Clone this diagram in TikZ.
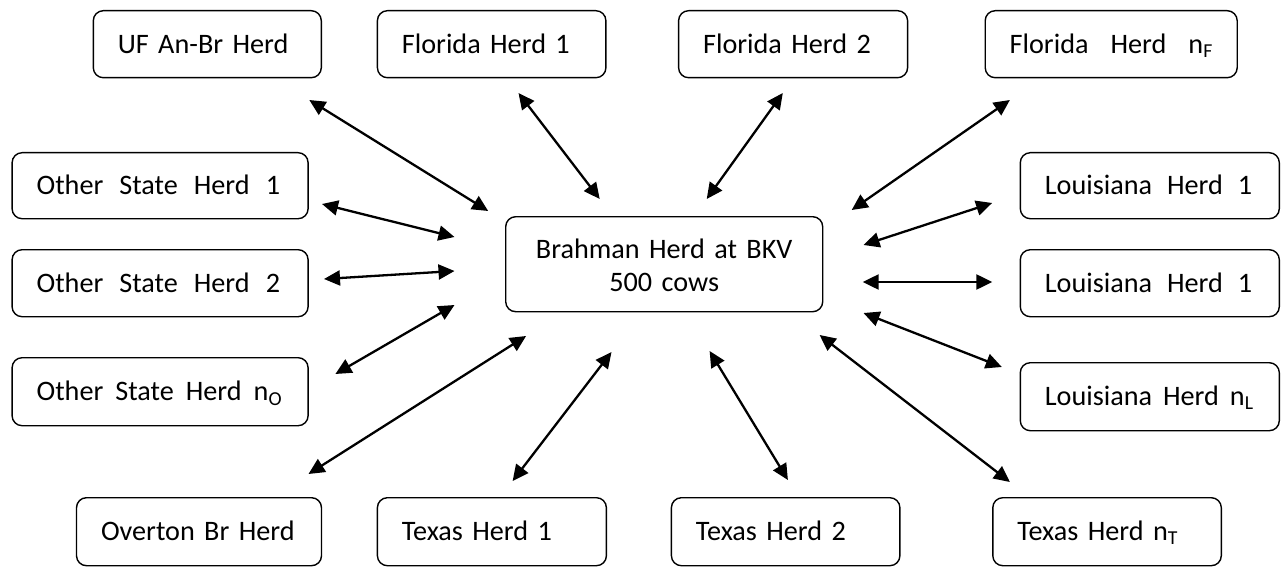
\documentclass[tikz,border=0pt]{standalone}
\usepackage{fontspec}
\setmainfont{Carlito}
\usetikzlibrary{arrows.meta}
\setlength{\parindent}{0pt}
\newcommand{\herdpad}{\hspace*{24.5pt}}
\begin{document}
\begin{tikzpicture}[x=1pt,y=-1pt,
  box/.style={draw, line width=1.4pt, rounded corners=10pt, anchor=north west,
    inner xsep=0pt, inner ysep=0pt, align=left, text height=18.2pt, text depth=0pt,
    font=\fontsize{28.2}{33}\selectfont},
  link/.style={{Triangle[length=16pt,width=15pt]}-{Triangle[length=16pt,width=15pt]}, line width=2.3pt}]
\useasboundingbox (0,0) rectangle (1283,567);

% top row
\node[box, text width=228pt, minimum height=67pt] (uf)  at (92.6,10)  {\herdpad UF An-Br Herd};
\node[box, text width=228.5pt, minimum height=67pt] (fl1) at (376.7,10) {\herdpad Florida Herd 1};
\node[box, text width=229pt, minimum height=67pt] (fl2) at (677.9,10) {\herdpad Florida Herd 2};
\node[box, text width=252pt, minimum height=67pt] (fln) at (984.5,10) {\herdpad Florida\hspace{22pt}Herd\hspace{22pt}n\textsubscript{F}};

% left column
\node[box, text width=296pt, minimum height=66pt] (os1) at (11.4,152) {\herdpad Other\hspace{16pt}State\hspace{16pt}Herd\hspace{16pt}1};
\node[box, text width=296pt, minimum height=67pt] (os2) at (11.4,249) {\herdpad Other\hspace{16pt}State\hspace{16pt}Herd\hspace{16pt}2};
\node[box, text width=296pt, minimum height=68pt] (osn) at (11.4,357) {\herdpad Other\hspace{12pt}State\hspace{12pt}Herd\hspace{12pt}n\textsubscript{O}};

% right column
\node[box, text width=259pt, minimum height=66pt] (lo1) at (1019.6,152) {\herdpad Louisiana\hspace{15pt}Herd\hspace{15pt}1};
\node[box, text width=259pt, minimum height=67pt] (lo2) at (1019.6,249) {\herdpad Louisiana\hspace{15pt}Herd\hspace{15pt}1};
\node[box, text width=259pt, minimum height=68pt] (lon) at (1019.6,362) {\herdpad Louisiana\hspace{11pt}Herd\hspace{11pt}n\textsubscript{L}};

% bottom row
\node[box, text width=245pt, minimum height=68pt] (ove) at (75.8,497)  {\herdpad Overton Br Herd};
\node[box, text width=229pt, minimum height=68pt] (tx1) at (376.7,497) {\herdpad Texas Herd 1};
\node[box, text width=228.5pt, minimum height=68pt] (tx2) at (670.7,497) {\herdpad Texas Herd 2};
\node[box, text width=228.5pt, minimum height=68pt] (txn) at (992.1,497) {\herdpad Texas Herd n\textsubscript{T}};

% centre
\node[box, align=center, text width=317pt, minimum height=95pt, text height=22pt, text depth=33pt] (bkv) at (505,216) {Brahman Herd at BKV\\500 cows};

% connector ends
\coordinate (uf-o)  at (309.3,100);  \coordinate (uf-i)  at (488.2,211);
\coordinate (fl1-o) at (518.5,93);   \coordinate (fl1-i) at (599.7,199);
\coordinate (fl2-o) at (782.8,93);   \coordinate (fl2-i) at (706.7,199);
\coordinate (fln-o) at (1009.9,100); \coordinate (fln-i) at (851.7,210);
\coordinate (os1-o) at (322,204);    \coordinate (os1-i) at (454.5,237);
\coordinate (os2-o) at (324,279);    \coordinate (os2-i) at (454.5,271);
\coordinate (osn-o) at (335.4,374);  \coordinate (osn-i) at (454.5,305);
\coordinate (ove-o) at (308.5,474);  \coordinate (ove-i) at (526.1,336);
\coordinate (tx1-o) at (512.6,481);  \coordinate (tx1-i) at (611.5,352);
\coordinate (tx2-o) at (787.9,480);  \coordinate (tx2-i) at (709.6,351);
\coordinate (txn-o) at (1009.9,482); \coordinate (txn-i) at (819.6,335);
\coordinate (lo1-o) at (992.1,203);  \coordinate (lo1-i) at (863.5,245);
\coordinate (lo2-o) at (992.3,282);  \coordinate (lo2-i) at (862.7,282);
\coordinate (lon-o) at (1001.8,367); \coordinate (lon-i) at (863.5,313);

\foreach \n in {uf,fl1,fl2,fln,os1,os2,osn,ove,tx1,tx2,txn,lo1,lo2,lon}
  \draw[link] (\n-o) -- (\n-i);
\end{tikzpicture}
\end{document}
